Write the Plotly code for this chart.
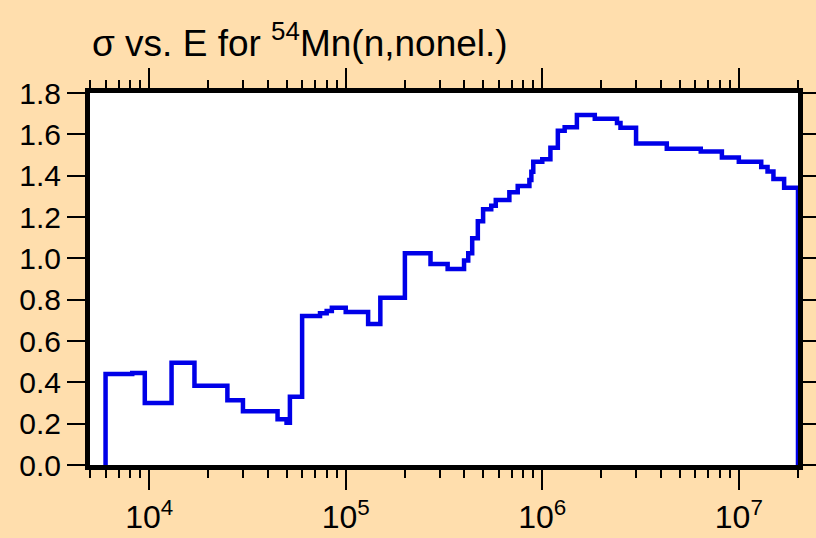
import math
import plotly.graph_objects as go

# Bin edges (eV) and cross sections (b) of the step histogram
energy_edges = [6.0e3, 8.2e3, 9.5e3, 1.3e4, 1.7e4, 2.5e4, 3.0e4, 4.5e4, 5.0e4, 5.2e4,
                6.0e4, 7.4e4, 8.0e4, 8.5e4, 1.0e5, 1.3e5, 1.5e5, 2.0e5, 2.7e5, 3.3e5,
                4.0e5, 4.2e5, 4.4e5, 4.7e5, 5.0e5, 5.5e5, 5.8e5, 6.8e5, 7.5e5, 8.6e5,
                8.8e5, 9.0e5, 1.0e6, 1.1e6, 1.2e6, 1.3e6, 1.5e6, 1.85e6, 2.4e6, 2.5e6,
                3.0e6, 4.3e6, 6.4e6, 8.2e6, 1.0e7, 1.3e7, 1.4e7, 1.5e7, 1.7e7, 2.0e7]
sigma = [0.44, 0.445, 0.30, 0.495, 0.384, 0.313, 0.26, 0.221, 0.205, 0.33,
         0.721, 0.734, 0.745, 0.761, 0.740, 0.682, 0.809, 1.024, 0.972, 0.948,
         0.99, 1.024, 1.097, 1.18, 1.237, 1.255, 1.282, 1.32, 1.35, 1.379,
         1.419, 1.467, 1.48, 1.535, 1.617, 1.634, 1.693, 1.675, 1.655, 1.632,
         1.556, 1.530, 1.517, 1.488, 1.467, 1.442, 1.420, 1.384, 1.342]
assert len(energy_edges) == len(sigma) + 1

x_tick_values = [1e4, 1e5, 1e6, 1e7]
x_tick_labels = ["10<sup>4</sup>", "10<sup>5</sup>", "10<sup>6</sup>", "10<sup>7</sup>"]
x_range = [5e3, 2e7]
y_range = [0.0, 1.8]

x = [energy_edges[0]] + energy_edges
y = [0.0] + sigma + [0.0]

fig = go.Figure()
fig.add_trace(go.Scatter(
    x=x, y=y, mode="lines", line=dict(shape="hv", color="#0000E8", width=4.5),
    showlegend=False, hoverinfo="x+y",
))

BG = "#FFDEAD"
fig.update_layout(
    width=816, height=538,
    paper_bgcolor=BG, plot_bgcolor="white",
    margin=dict(l=90, r=18, t=93, b=73, autoexpand=False),
    font=dict(family="Liberation Sans, Arial, sans-serif", color="black"),
    title=dict(text="σ vs. E for <sup>54</sup>Mn(n,nonel.)",
               font=dict(size=37, color="black"),
               xref="container", x=92 / 816, xanchor="left",
               yref="container", y=1 - 43 / 538, yanchor="middle"),
)
fig.update_xaxes(
    type="log", range=[math.log10(x_range[0]), math.log10(x_range[1])],
    tickvals=x_tick_values, ticktext=x_tick_labels,
    ticks="outside", ticklen=20, tickwidth=2, tickcolor="black",
    tickfont=dict(size=32),
    minor=dict(ticks="outside", ticklen=8, tickwidth=2, tickcolor="black", dtick="D1"),
    showline=True, linewidth=5, linecolor="black", mirror="allticks",
    showgrid=False, zeroline=False, automargin=False,
)
fig.update_yaxes(
    range=y_range, dtick=0.2, tick0=0, tickformat=".1f",
    ticks="outside", ticklen=18, tickwidth=2, tickcolor="black",
    tickfont=dict(size=30),
    showline=True, linewidth=5, linecolor="black", mirror="allticks",
    showgrid=False, zeroline=False, automargin=False,
)

fig.write_html(
    "out.html",
    config={"displayModeBar": False},
    post_script="document.body.style.margin='0';document.body.style.padding='0';"
                "document.body.style.overflow='hidden';",
)
